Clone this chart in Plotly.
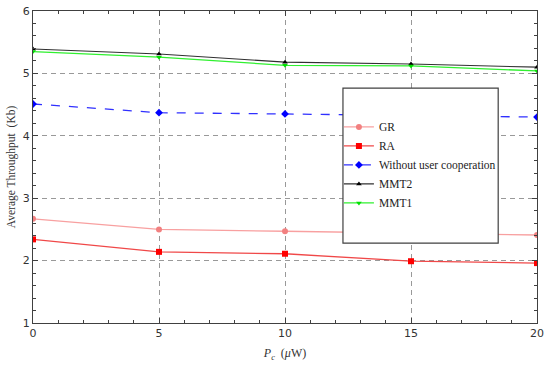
import plotly.graph_objects as go

pc = [0, 5, 10, 15, 20]
gr = [2.67, 2.50, 2.47, 2.44, 2.41]
ra = [2.34, 2.14, 2.11, 1.99, 1.96]
without_coop = [4.51, 4.37, 4.35, 4.32, 4.30]
mmt2 = [5.39, 5.31, 5.18, 5.15, 5.10]
mmt1 = [5.35, 5.26, 5.13, 5.12, 5.04]

fig = go.Figure()
fig.add_trace(go.Scatter(x=pc, y=gr, name="GR", mode="lines+markers",
                         line=dict(color="#F8A0A0", width=1.3),
                         marker=dict(symbol="circle", size=6, color="#F28080")))
fig.add_trace(go.Scatter(x=pc, y=ra, name="RA", mode="lines+markers",
                         line=dict(color="#F04848", width=1.3),
                         marker=dict(symbol="square", size=6, color="#FF0000")))
fig.add_trace(go.Scatter(x=pc, y=without_coop, name="Without user cooperation", mode="lines+markers",
                         line=dict(color="#3030FF", width=1.3, dash="dash"),
                         marker=dict(symbol="diamond", size=6, color="#0000FF")))
fig.add_trace(go.Scatter(x=pc, y=mmt2, name="MMT2", mode="lines+markers",
                         line=dict(color="#303030", width=1.1),
                         marker=dict(symbol="triangle-up", size=5, color="#000000")))
fig.add_trace(go.Scatter(x=pc, y=mmt1, name="MMT1", mode="lines+markers",
                         line=dict(color="#30F030", width=1.3),
                         marker=dict(symbol="triangle-down", size=5, color="#00E000")))

fig.add_shape(type="rect", xref="paper", yref="paper",
              x0=0.615, x1=0.923, y0=0.256, y1=0.753,
              line=dict(color="#404040", width=1.2), fillcolor="white", layer="above")

axis_common = dict(showline=True, linecolor="#404040", linewidth=1.2, mirror="allticks",
                   ticks="inside", ticklen=5, tickcolor="#404040",
                   showgrid=True, gridcolor="#999999", griddash="5px,4px", gridwidth=1,
                   zeroline=False, automargin=False,
                   tickfont=dict(family="DejaVu Sans", size=11, color="#333333"))

fig.update_xaxes(range=[0, 20], dtick=5, tick0=0,
                 minor=dict(ticks="inside", dtick=1, ticklen=3, tickcolor="#404040", showgrid=False),
                 title=dict(text="<i>P<sub>c</sub></i>  (<i>μ</i>W)",
                            font=dict(family="Liberation Serif", size=12, color="#333333"), standoff=9),
                 **axis_common)
fig.update_yaxes(range=[1, 6], dtick=1, tick0=1,
                 minor=dict(ticks="inside", dtick=0.2, ticklen=3, tickcolor="#404040", showgrid=False),
                 title=dict(text="Average Throughput  (Kb)",
                            font=dict(family="Liberation Serif", size=11.5, color="#333333"), standoff=4),
                 **axis_common)

fig.update_layout(width=550, height=368, margin=dict(l=33, r=13, t=11, b=45),
                  plot_bgcolor="white", paper_bgcolor="white",
                  legend=dict(x=0.607, y=0.675, xanchor="left", yanchor="top",
                              bgcolor="rgba(0,0,0,0)", borderwidth=0, itemwidth=30,
                              font=dict(family="Liberation Serif", size=11.5, color="#222222")))

fig.write_html("out.html", config={"displayModeBar": False},
               post_script="document.body.style.margin='0px';")
